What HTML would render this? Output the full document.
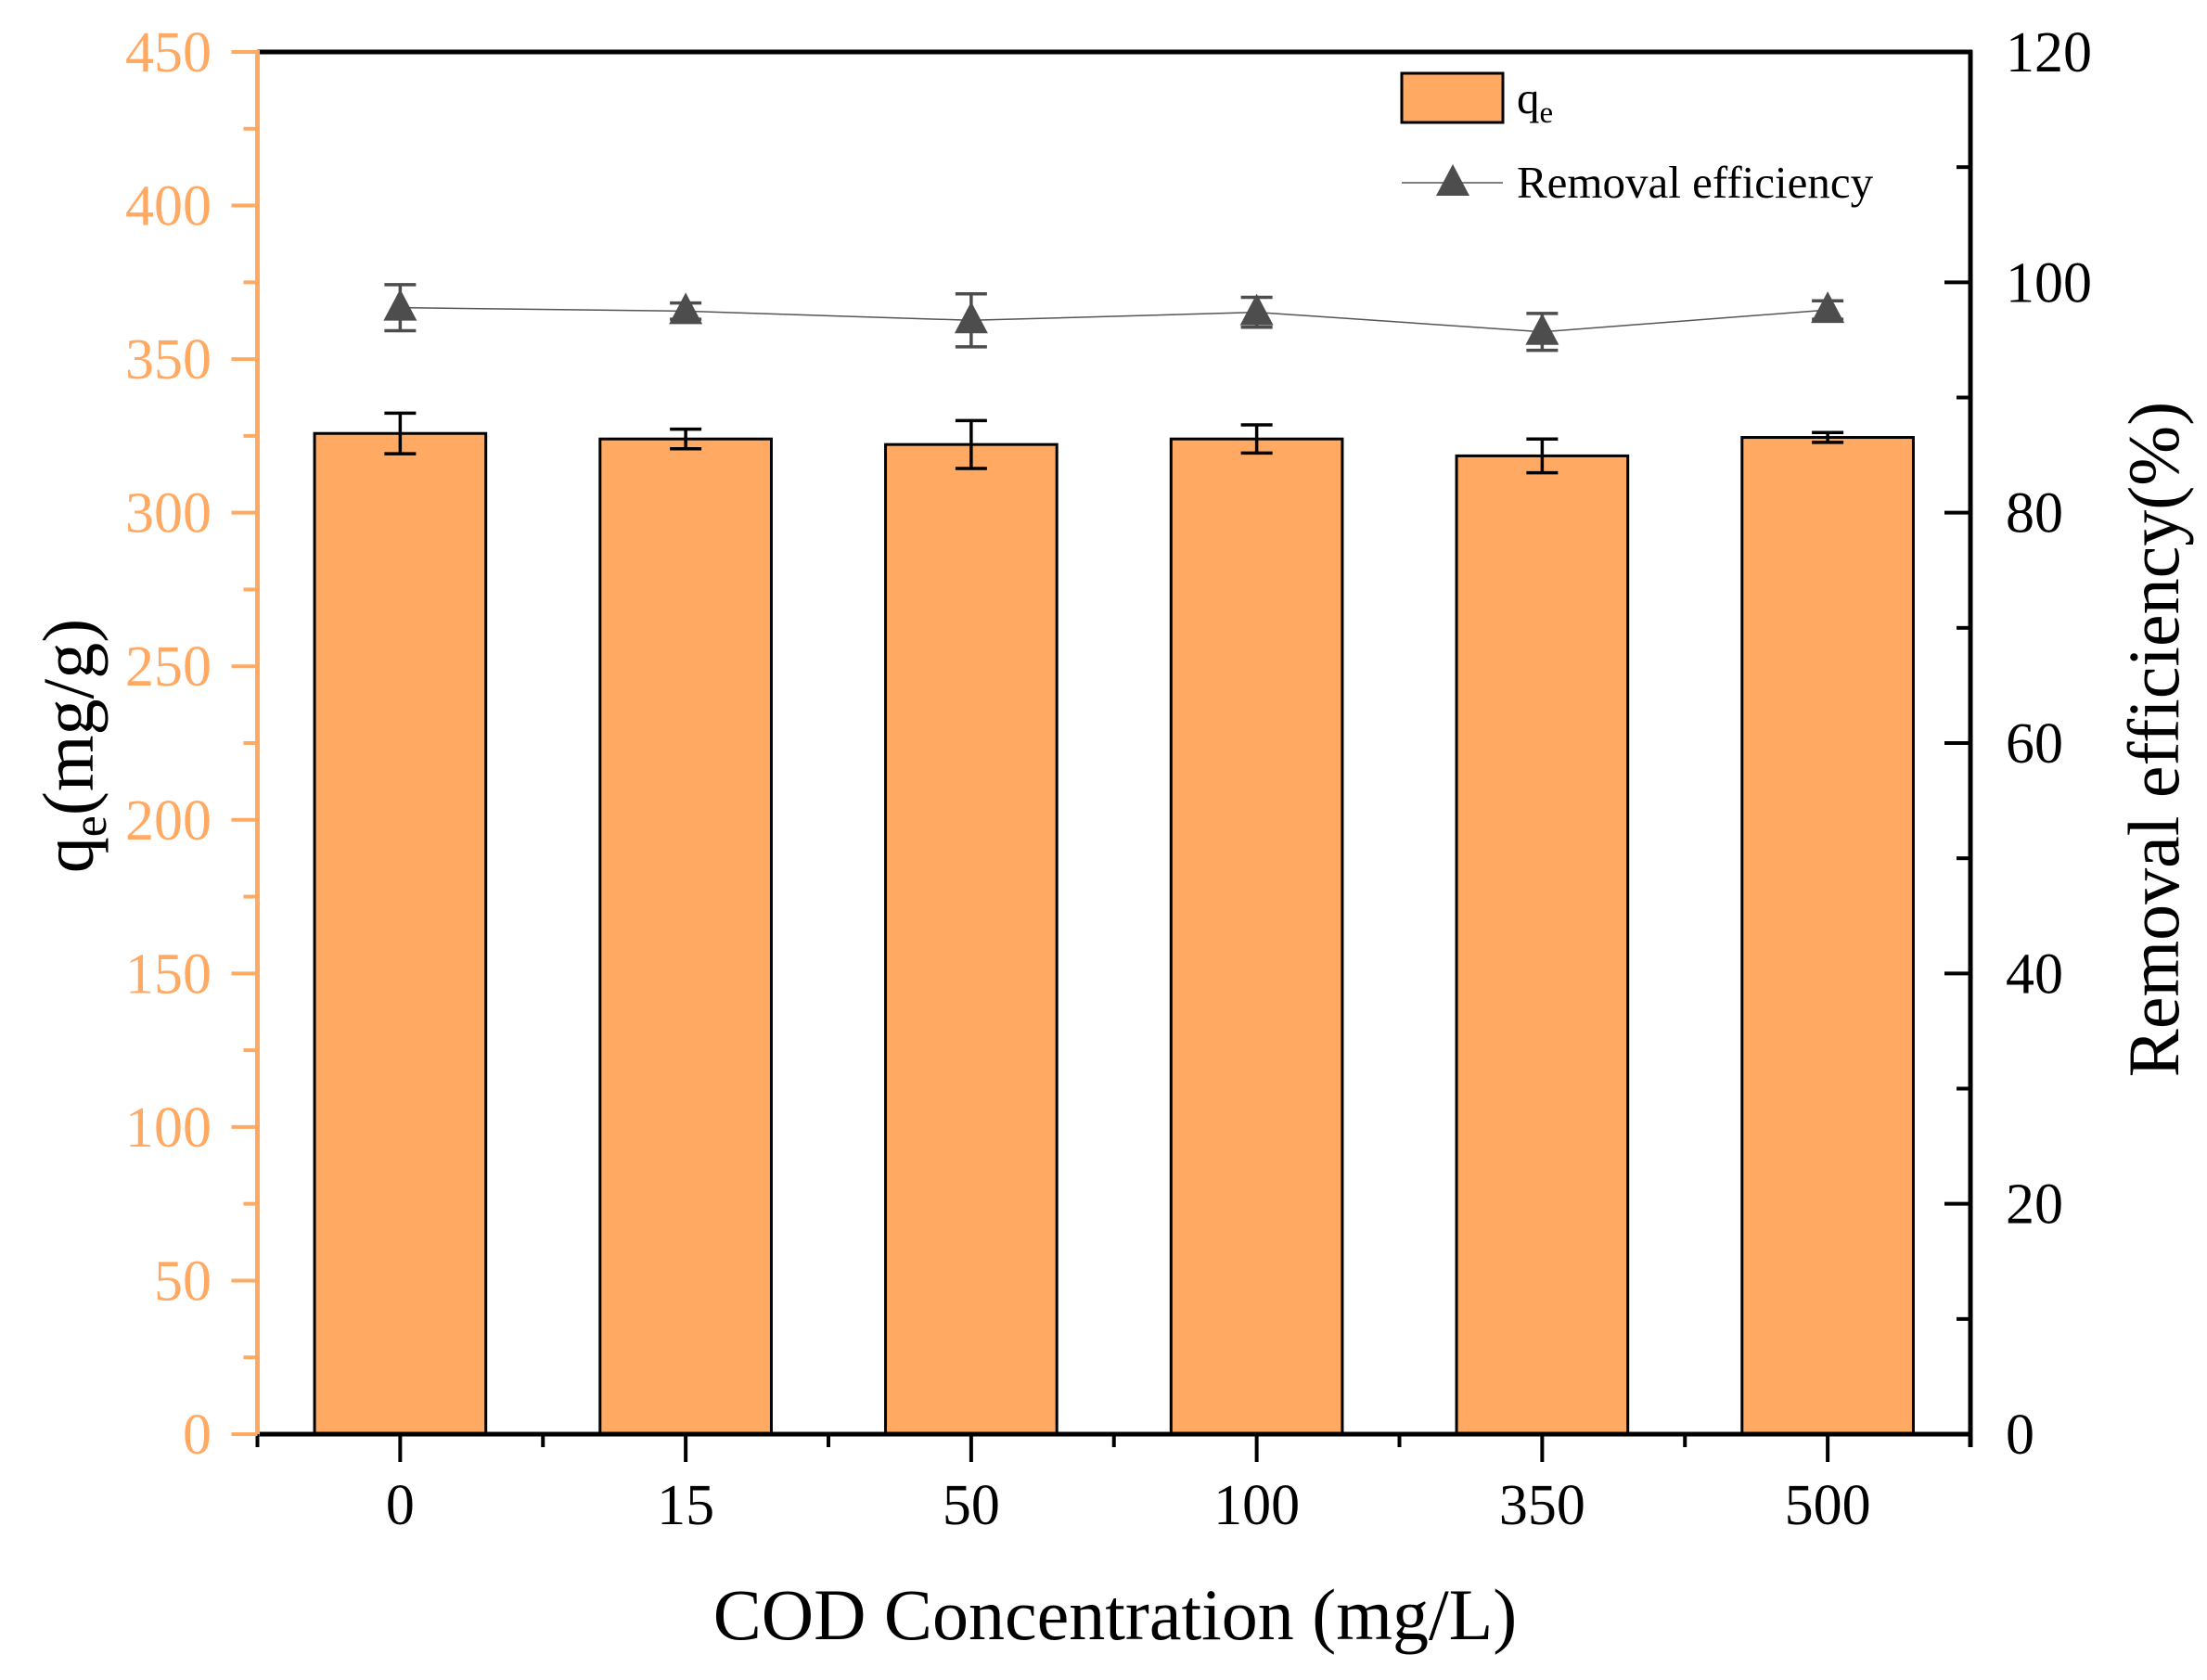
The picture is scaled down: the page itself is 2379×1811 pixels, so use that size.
<!DOCTYPE html>
<html><head><meta charset="utf-8"><style>
html,body{margin:0;padding:0;background:#fff;}
svg{display:block;font-family:"Liberation Serif","DejaVu Serif",serif;}
</style></head><body>
<svg id="chart" width="2379" height="1811" viewBox="0 0 2379 1811" xmlns="http://www.w3.org/2000/svg"></svg>
<script>
const categories = ["0","15","50","100","350","500"];
const qeValues = [325.8, 324, 322.2, 324, 318.5, 324.5];
const qeErrors = [6.6, 3.2, 7.8, 4.6, 5.5, 1.6];
const effValues = [97.8, 97.5, 96.7, 97.4, 95.7, 97.6];
const effErrors = [2.0, 0.7, 2.3, 1.3, 1.6, 0.8];
const leftTicks = [0,50,100,150,200,250,300,350,400,450];
const rightTicks = [0,20,40,60,80,100,120];

const chartSvg = document.getElementById('chart');
const NS = "http://www.w3.org/2000/svg";
const PL=277.5, PR=2124, PT=56, PB=1546;
const slot=(PR-PL)/categories.length;
function xScale(i){return PL+slot*(i+0.5);}
function yLeft(v){return PB-(v/450)*(PB-PT);}
function yRight(v){return PB-(v/120)*(PB-PT);}
const ORANGE="#FFA963";
function mk(tag, attrs, parent){
  const e=document.createElementNS(NS,tag);
  for(const k in attrs) e.setAttribute(k,attrs[k]);
  (parent||chartSvg).appendChild(e);
  return e;
}

// bars
const barG=mk('g',{});


categories.forEach((c,i)=>{
  const w=slot*0.6, x=xScale(i)-w/2, y=yLeft(qeValues[i]);
  const r=mk('rect',{x:x,y:y,width:w,height:PB-y,fill:ORANGE,stroke:"#000","stroke-width":3},barG);
  
  
  const e=mk('g',{stroke:"#000","stroke-width":3.5},barG);
  
  
  const yt=yLeft(qeValues[i]+qeErrors[i]), yb=yLeft(qeValues[i]-qeErrors[i]), cx=xScale(i);
  mk('line',{x1:cx,x2:cx,y1:yt,y2:yb},e);
  mk('line',{x1:cx-17,x2:cx+17,y1:yt,y2:yt},e);
  mk('line',{x1:cx-17,x2:cx+17,y1:yb,y2:yb},e);
});

// efficiency line
const lineG=mk('g',{});


const pts=effValues.map((v,i)=>xScale(i)+','+yRight(v)).join(' ');
const pl=mk('polyline',{points:pts,fill:"none",stroke:"#555","stroke-width":1.5},lineG);


effValues.forEach((v,i)=>{
  const cx=xScale(i), cy=yRight(v);
  const e=mk('g',{stroke:"#4d4d4d","stroke-width":3.5},lineG);
  
  
  const yt=yRight(v+effErrors[i]), yb=yRight(v-effErrors[i]);
  mk('line',{x1:cx,x2:cx,y1:yt,y2:yb},e);
  mk('line',{x1:cx-17,x2:cx+17,y1:yt,y2:yt},e);
  mk('line',{x1:cx-17,x2:cx+17,y1:yb,y2:yb},e);
  const p=mk('polygon',{points:`${cx},${cy-20} ${cx-18},${cy+14} ${cx+18},${cy+14}`,fill:"#4d4d4d"},lineG);
  
  
});

// axes frame
const ax=mk('g',{});


const topBorder=mk('line',{x1:PL,x2:PR+2,y1:PT,y2:PT,stroke:"#000","stroke-width":5},ax);


const bottomAxis=mk('line',{x1:PL,x2:PR+2,y1:PB,y2:PB,stroke:"#000","stroke-width":5},ax);


const rightAxis=mk('line',{x1:PR,x2:PR,y1:PT-2,y2:PB+14,stroke:"#000","stroke-width":5},ax);


const leftAxis=mk('line',{x1:PL,x2:PL,y1:PT-2,y2:PB+2,stroke:ORANGE,"stroke-width":5},ax);



// x ticks
for(let i=0;i<=categories.length;i++){
  const x=PL+slot*i;
  mk('line',{x1:x,x2:x,y1:PB,y2:PB+14,stroke:"#000","stroke-width":4},ax);
}
categories.forEach((c,i)=>{
  mk('line',{x1:xScale(i),x2:xScale(i),y1:PB,y2:PB+30,stroke:"#000","stroke-width":4},ax);
  const t=mk('text',{x:xScale(i),y:1643,"font-size":62,"text-anchor":"middle",fill:"#000"},ax);
  t.textContent=c;
  
  
});

// left ticks
leftTicks.forEach(v=>{
  const y=yLeft(v);
  mk('line',{x1:PL-28,x2:PL,y1:y,y2:y,stroke:ORANGE,"stroke-width":4},ax);
  if(v<450) mk('line',{x1:PL-15,x2:PL,y1:yLeft(v+25),y2:yLeft(v+25),stroke:ORANGE,"stroke-width":4},ax);
  const t=mk('text',{x:228,y:y+21,"font-size":62,"text-anchor":"end",fill:ORANGE},ax);
  t.textContent=v;
  
  
});
// right ticks
rightTicks.forEach(v=>{
  const y=yRight(v);
  mk('line',{x1:PR-28,x2:PR,y1:y,y2:y,stroke:"#000","stroke-width":4},ax);
  if(v<120) mk('line',{x1:PR-15,x2:PR,y1:yRight(v+10),y2:yRight(v+10),stroke:"#000","stroke-width":4},ax);
  const t=mk('text',{x:2162,y:y+21,"font-size":62,"text-anchor":"start",fill:"#000"},ax);
  t.textContent=v;
  
  
});
</script>
<script>
(function(){
const s=document.getElementById('chart');
s.insertAdjacentHTML('beforeend',`
<text x="1202" y="1767" font-size="78" text-anchor="middle" fill="#000">COD Concentration (mg/L)</text>
<text transform="translate(100,804) rotate(-90)" font-size="78" text-anchor="middle" fill="#000">q<tspan font-size="52" dy="14">e</tspan><tspan dy="-14">(mg/g)</tspan></text>
<text transform="translate(2348,797) rotate(-90)" font-size="78" text-anchor="middle" fill="#000">Removal efficiency(%)</text>
<g>
  <rect x="1511" y="79" width="109" height="53" fill="#FFA963" stroke="#000" stroke-width="3"/>
  <text x="1635" y="122" font-size="49" fill="#000">q<tspan font-size="33" dy="10">e</tspan></text>
  <line x1="1511" x2="1620" y1="197" y2="197" stroke="#555" stroke-width="1.5"/>
  <polygon points="1566,177 1548,211 1584,211" fill="#4d4d4d"/>
  <text x="1635" y="213" font-size="49" fill="#000">Removal efficiency</text>
</g>`);
})();
</script>
</body></html>
